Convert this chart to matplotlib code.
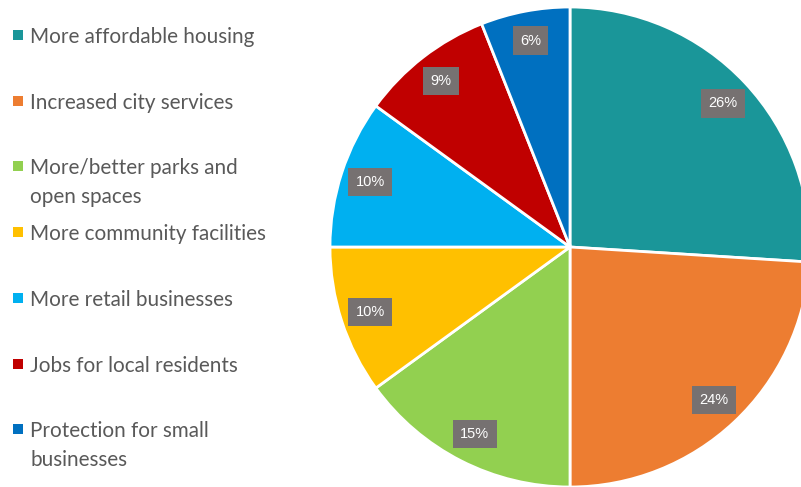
import matplotlib.pyplot as plt

categories = [
    "More affordable housing",
    "Increased city services",
    "More/better parks and\nopen spaces",
    "More community facilities",
    "More retail businesses",
    "Jobs for local residents",
    "Protection for small\nbusinesses",
]
shares = [26, 24, 15, 10, 10, 9, 6]
colors = ["#1A9699", "#ED7D31", "#92D050", "#FFC000", "#00B0F0", "#C00000", "#0070C0"]

W, H = 801, 487
fig = plt.figure(figsize=(W / 100, H / 100), dpi=100)
ax = fig.add_axes([0, 0, 1, 1])

wedges, _, autotexts = ax.pie(
    shares,
    colors=colors,
    startangle=90,
    counterclock=False,
    center=(570, H - 247),
    radius=240,
    autopct="%.0f%%",
    pctdistance=0.875,
    wedgeprops=dict(edgecolor="white", linewidth=2),
    textprops=dict(color="white", fontsize=10.5, family="Liberation Sans"),
)
for t in autotexts:
    t.set_bbox(dict(facecolor="#767171", edgecolor="none", boxstyle="square,pad=0.5"))

ax.set_xlim(0, W)
ax.set_ylim(0, H)
ax.set_aspect("equal")
ax.axis("off")

# legend drawn by hand: first lines evenly spaced, marker on first line
for i, (lab, col) in enumerate(zip(categories, colors)):
    y = H - (35 + 65.7 * i)
    ax.scatter([18], [y], marker="s", s=45, color=col, linewidths=0)
    ax.text(30, y + 8, lab, va="top", ha="left", fontsize=14.9, color="#595959",
            family="Lato", linespacing=1.52)

fig.savefig("out.png", dpi=100)
